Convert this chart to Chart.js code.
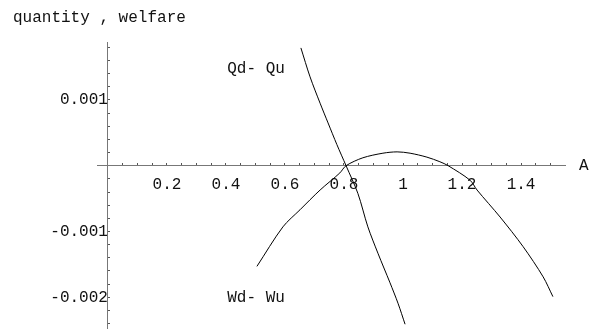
<!DOCTYPE html>
<html>
<head>
<meta charset="utf-8">
<script src="https://cdn.jsdelivr.net/npm/chart.js@4/dist/chart.umd.min.js"></script>
<style>
  html, body { margin: 0; padding: 0; background: #ffffff; }
  canvas { display: block; }
</style>
</head>
<body>
<canvas id="grafica" width="594" height="330"></canvas>
<script>
Chart.defaults.font.family = "'Liberation Mono', 'DejaVu Sans Mono', monospace";
Chart.defaults.font.size = 16;
Chart.defaults.color = '#111111';

// curva Qd - Qu
const qA = [0.654, 0.685, 0.719, 0.746, 0.776, 0.807, 0.847, 0.881, 0.915, 0.956, 0.983, 1.007];
const qVal = [0.00179, 0.00135, 0.00095, 0.00065, 0.00032, 0, -0.00042, -0.00093, -0.00133, -0.00178, -0.00209, -0.00241];

// curva Wd - Wu
const wA = [0.505, 0.593, 0.651, 0.719, 0.786, 0.807, 0.864, 0.932, 0.980, 1.024, 1.081, 1.125, 1.153, 1.227, 1.251, 1.329, 1.407, 1.475, 1.508];
const wVal = [-0.00153, -0.00093, -0.00067, -0.00037, -0.00011, 0, 0.00012, 0.00019, 0.00021, 0.00019, 0.00013, 0.00006, 0, -0.00022, -0.00037, -0.00078, -0.00123, -0.00169, -0.00199];

const xTicks = [0.2, 0.4, 0.6, 0.8, 1, 1.2, 1.4];
const xTickLabels = ['0.2', '0.4', '0.6', '0.8', '1', '1.2', '1.4'];
const yTicks = [-0.002, -0.001, 0.001];
const yTickLabels = ['-0.002', '-0.001', '0.001'];

const etiquetas = ['Qd- Qu', 'Wd- Wu'];
const etiquetaA = [0.502, 0.502];
const etiquetaVal = [0.00147, -0.002];

const tituloY = 'quantity , welfare';
const tituloX = 'A';

const puntos = (xs, ys) => xs.map((x, i) => ({ x: x, y: ys[i] }));

function ticksConMenores(paso, desde, hasta) {
  const lista = [];
  for (let i = Math.round(desde / paso); i <= Math.round(hasta / paso); i++) {
    const v = +(i * paso).toFixed(6);
    if (v !== 0) lista.push({ value: v });
  }
  return lista;
}

function etiquetaDe(valor, mayores, textos) {
  const i = mayores.findIndex(m => Math.abs(m - valor) < 1e-9);
  return i >= 0 ? textos[i] : '';
}

// los ejes cruzados no deben reservar espacio
function sinEspacio(s) {
  if (s.isHorizontal()) s.height = 0; else s.width = 0;
  s.paddingTop = 0;
  s.paddingBottom = 0;
  s.paddingLeft = 0;
  s.paddingRight = 0;
}

const textosPlugin = {
  id: 'textos',
  afterDraw(chart) {
    const ctx = chart.ctx;
    const sx = chart.scales.x, sy = chart.scales.y;
    ctx.save();
    ctx.fillStyle = '#111111';
    ctx.font = "16px 'Liberation Mono', monospace";
    ctx.textBaseline = 'middle';
    ctx.textAlign = 'center';
    etiquetas.forEach((t, i) => {
      ctx.fillText(t, sx.getPixelForValue(etiquetaA[i]), sy.getPixelForValue(etiquetaVal[i]));
    });
    ctx.textAlign = 'left';
    ctx.fillText(tituloX, chart.chartArea.right + 14, sy.getPixelForValue(0));
    ctx.fillText(tituloY, 13, 18);
    ctx.restore();
  }
};

const linea = {
  borderColor: '#000000',
  borderWidth: 1,
  pointRadius: 0,
  showLine: true,
  fill: false,
  tension: 0.3,
};

new Chart(document.getElementById('grafica'), {
  type: 'scatter',
  data: {
    datasets: [
      Object.assign({ label: 'Qd-Qu', data: puntos(qA, qVal) }, linea),
      Object.assign({ label: 'Wd-Wu', data: puntos(wA, wVal) }, linea),
    ],
  },
  options: {
    responsive: false,
    animation: false,
    layout: { padding: { left: 97, right: 29, top: 42, bottom: 2 } },
    plugins: { legend: { display: false }, tooltip: { enabled: false } },
    scales: {
      x: {
        type: 'linear',
        min: -0.037,
        max: 1.549,
        position: { y: 0 },
        afterBuildTicks: (s) => { s.ticks = ticksConMenores(0.05, 0.05, 1.5); },
        afterFit: sinEspacio,
        ticks: {
          autoSkip: false,
          maxRotation: 0,
          padding: 12,
          color: '#111111',
          callback: (v) => etiquetaDe(v, xTicks, xTickLabels),
        },
        grid: { drawOnChartArea: false, tickLength: -3, tickColor: '#555555' },
        border: { color: '#777777', width: 1 },
      },
      y: {
        type: 'linear',
        min: -0.002467,
        max: 0.00188,
        position: { x: 0 },
        afterBuildTicks: (s) => { s.ticks = ticksConMenores(0.0002, -0.0024, 0.0018); },
        afterFit: sinEspacio,
        ticks: {
          autoSkip: false,
          padding: 20,
          color: '#111111',
          callback: (v) => etiquetaDe(v, yTicks, yTickLabels),
        },
        grid: { drawOnChartArea: false, tickLength: -3, tickColor: '#555555' },
        border: { color: '#777777', width: 1 },
      },
    },
  },
  plugins: [textosPlugin],
});
</script>
</body>
</html>
